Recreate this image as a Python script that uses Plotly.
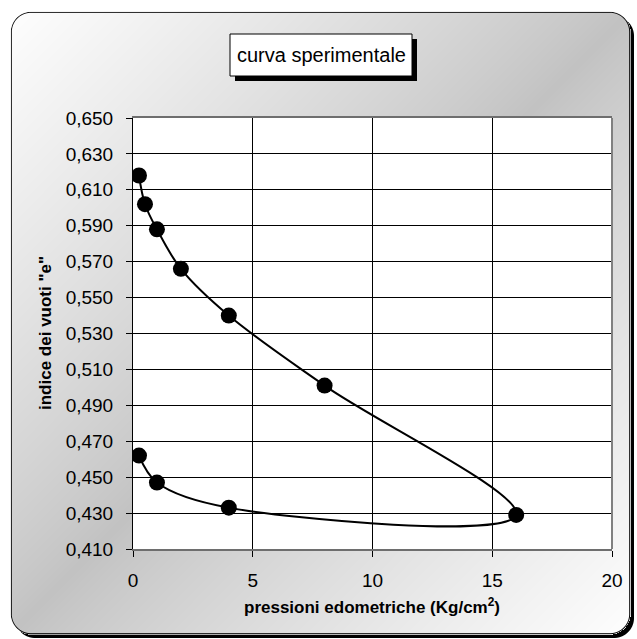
import base64
import struct
import zlib

import numpy as np
import plotly.graph_objects as go

# Oedometer test: applied pressure (kg/cm2) and void ratio e
pressioni = [0.25, 0.5, 1, 2, 4, 8, 16, 4, 1, 0.25]
indice_vuoti = [0.618, 0.602, 0.588, 0.566, 0.540, 0.501, 0.429, 0.433, 0.447, 0.462]

titolo = "curva sperimentale"
titolo_x = "pressioni edometriche (Kg/cm<sup>2</sup>)"
titolo_y = "indice dei vuoti \"e\""

W, H = 637, 639
L, R, T, B = 133, 612, 118, 549          # plot area in pixels
PW, PH = R - L, B - T

SANS = "Liberation Sans, Arial"


def px_x(p):
    return (p - L) / PW


def px_y(p):
    return (B - p) / PH


def png_uri(rgba):
    h, w, _ = rgba.shape
    raw = b"".join(b"\x00" + rgba[i].tobytes() for i in range(h))

    def chunk(tag, data):
        c = struct.pack(">I", len(data)) + tag + data
        return c + struct.pack(">I", zlib.crc32(tag + data) & 0xFFFFFFFF)

    png = b"\x89PNG\r\n\x1a\n"
    png += chunk(b"IHDR", struct.pack(">IIBBBBB", w, h, 8, 6, 0, 0, 0))
    png += chunk(b"IDAT", zlib.compress(raw, 9))
    png += chunk(b"IEND", b"")
    return "data:image/png;base64," + base64.b64encode(png).decode()


def rounded_sdf(xx, yy, x0, y0, x1, y1, r):
    cx, cy = (x0 + x1) / 2, (y0 + y1) / 2
    bx, by = (x1 - x0) / 2 - r, (y1 - y0) / 2 - r
    qx = np.abs(xx - cx) - bx
    qy = np.abs(yy - cy) - by
    outside = np.hypot(np.maximum(qx, 0), np.maximum(qy, 0))
    inside = np.minimum(np.maximum(qx, qy), 0)
    return outside + inside - r


# chart background: rounded panel with diagonal gradient and drop shadow
yy, xx = np.mgrid[0:H, 0:W].astype(float) + 0.5
fx0, fy0, fx1, fy1, rad = 11, 12, 630, 634, 20
d_main = rounded_sdf(xx, yy, fx0, fy0, fx1, fy1, rad)
d_shadow = rounded_sdf(xx, yy, fx0 + 4, fy0 + 4, fx1 + 4, fy1 + 4, rad)
a_main = np.clip(0.5 - d_main, 0, 1)
a_shadow = np.clip(0.5 - d_shadow, 0, 1)

u = (xx - fx0) / (fx1 - fx0)
v = (yy - fy0) / (fy1 - fy0)
t = np.clip(np.abs(u + v - 1), 0, 1)
grad = 194 + 60 * t ** 0.85

line = np.clip(1.0 - np.abs(d_main + 0.3), 0, 1)
col = grad * (1 - line)
alpha = a_main + a_shadow * (1 - a_main)
alpha = np.maximum(alpha, line)
premul = col * a_main
color = np.where(alpha > 0, premul / np.maximum(alpha, 1e-6), 0)
color = np.where(line > a_main, col, color)

rgba = np.zeros((H, W, 4), dtype=np.uint8)
rgba[..., 0] = rgba[..., 1] = rgba[..., 2] = np.clip(color, 0, 255).astype(np.uint8)
rgba[..., 3] = np.clip(alpha * 255, 0, 255).astype(np.uint8)
bg_uri = png_uri(rgba)

fig = go.Figure()
fig.add_trace(go.Scatter(
    x=pressioni, y=indice_vuoti,
    mode="lines+markers",
    line=dict(color="black", width=2, shape="spline", smoothing=1.0),
    marker=dict(color="black", size=16),
    showlegend=False,
    hoverinfo="x+y",
))

fig.add_layout_image(dict(
    source=bg_uri, xref="paper", yref="paper",
    x=px_x(0), y=px_y(0), sizex=W / PW, sizey=H / PH,
    xanchor="left", yanchor="top", sizing="stretch", layer="below",
))

# white plotting area over the gradient panel
fig.add_shape(type="rect", xref="paper", yref="paper", x0=0, x1=1, y0=0, y1=1,
              fillcolor="white", line=dict(width=0), layer="below")

# title box with shadow
bx0, by0, bx1, by1 = 230, 34, 412, 76
fig.add_shape(type="rect", xref="paper", yref="paper",
              x0=px_x(bx0 + 5), x1=px_x(bx1 + 5), y0=px_y(by0 + 5), y1=px_y(by1 + 5),
              fillcolor="black", line=dict(width=0), layer="above")
fig.add_shape(type="rect", xref="paper", yref="paper",
              x0=px_x(bx0), x1=px_x(bx1), y0=px_y(by0), y1=px_y(by1),
              fillcolor="white", line=dict(color="black", width=1), layer="above")
fig.add_annotation(text=titolo, xref="paper", yref="paper",
                   x=px_x((bx0 + bx1) / 2), y=px_y((by0 + by1) / 2),
                   xanchor="center", yanchor="middle",
                   showarrow=False, font=dict(family=SANS, size=20, color="black"))

# right edge of plot frame
fig.add_shape(type="line", xref="paper", yref="paper", x0=1, x1=1, y0=0, y1=1,
              line=dict(color="#808080", width=2), layer="above")

fig.add_annotation(text=titolo_x, xref="paper", yref="paper",
                   x=px_x(372), y=px_y(606), xanchor="center", yanchor="middle",
                   showarrow=False,
                   font=dict(family=SANS, size=17, color="black", weight="bold"))
fig.add_annotation(text=titolo_y, xref="paper", yref="paper",
                   x=px_x(45), y=px_y(333), xanchor="center", yanchor="middle",
                   showarrow=False, textangle=-90,
                   font=dict(family=SANS, size=17, color="black", weight="bold"))

fig.update_xaxes(
    range=[0, 20], tick0=0, dtick=5,
    showgrid=True, gridcolor="black", gridwidth=1,
    zeroline=False,
    showline=True, linecolor="#6e6e6e", linewidth=2, mirror=True,
    ticks="outside", ticklen=6, tickcolor="black", tickwidth=1,
    ticklabelstandoff=7,
    tickfont=dict(family=SANS, size=19, color="black"),
)
fig.update_yaxes(
    range=[0.41, 0.65], tick0=0.41, dtick=0.02, tickformat=".3f",
    showgrid=True, gridcolor="black", gridwidth=1,
    zeroline=False,
    showline=True, linecolor="black", linewidth=1,
    ticks="outside", ticklen=6, tickcolor="black", tickwidth=1,
    ticklabelstandoff=9,
    tickfont=dict(family=SANS, size=19, color="black"),
)

fig.update_layout(
    width=W, height=H,
    margin=dict(l=L, r=W - R, t=T, b=H - B),
    paper_bgcolor="white", plot_bgcolor="white",
    separators=",.",
    showlegend=False,
)

fig.write_html("out.html")
